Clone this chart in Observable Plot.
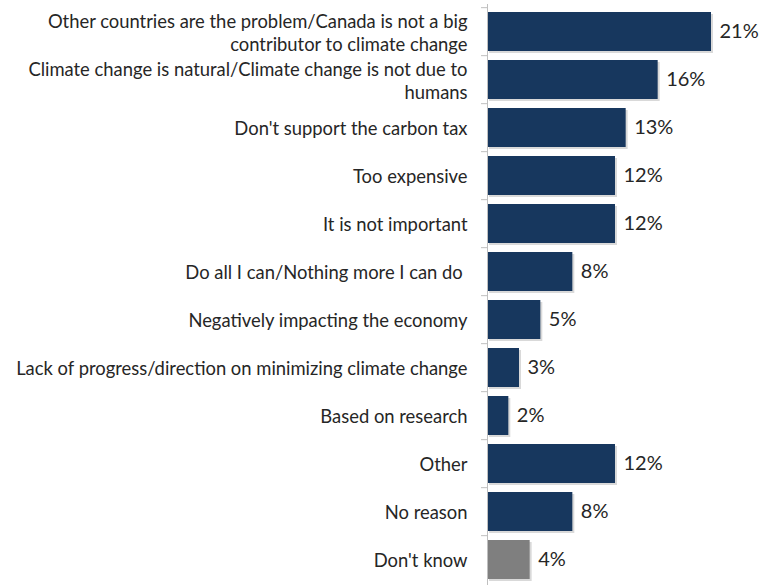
<!DOCTYPE html>
<html>
<head>
<meta charset="utf-8">
<script src="https://cdn.jsdelivr.net/npm/d3@7"></script>
<script src="https://cdn.jsdelivr.net/npm/@observablehq/plot@0.6"></script>
<style>
  html, body { margin: 0; padding: 0; background: #fff; overflow: hidden; }
  #chart svg { display: block; }
</style>
</head>
<body>
<div id="chart"></div>
<script>
const categories = [
  "Other countries are the problem/Canada is not a big\ncontributor to climate change",
  "Climate change is natural/Climate change is not due to\nhumans",
  "Don't support the carbon tax",
  "Too expensive",
  "It is not important",
  "Do all I can/Nothing more I can do\u00a0",
  "Negatively impacting the economy",
  "Lack of progress/direction on minimizing climate change",
  "Based on research",
  "Other",
  "No reason",
  "Don't know"
];
const values = [21, 16, 13, 12, 12, 8, 5, 3, 2, 12, 8, 4];
const groups = ["main","main","main","main","main","main","main","main","main","main","main","dk"];

const data = categories.map((c, i) => ({category: c, value: values[i], group: groups[i]}));

const W = 760, H = 588;
const marginTop = 4, marginBottom = 0;
const step = (H - marginTop - marginBottom) / categories.length;

const chart = Plot.plot({
  width: W,
  height: H,
  marginLeft: 487,
  marginRight: 49,
  marginTop,
  marginBottom,
  x: {domain: [0, 21], axis: null},
  y: {domain: categories, paddingInner: 0.18, paddingOuter: 0.09, axis: null},
  color: {domain: ["main", "dk"], range: ["#17375E", "#7F7F7F"]},
  style: {fontFamily: "Lato, sans-serif"},
  marks: [
    // bar shadow
    Plot.barX(data, {x: "value", y: "category", fill: "#000", fillOpacity: 0.15, dx: 2, dy: 2}),
    Plot.barX(data, {x: "value", y: "category", fill: "group"}),
    // axis line
    Plot.ruleX([0], {stroke: "#BFBFBF", strokeWidth: 1}),
    // category boundary ticks
    Plot.ruleY(categories, {y: d => d, x1: -0.56, x2: 0, dy: -step / 2, stroke: "#BFBFBF"}),
    // category labels
    Plot.text(data, {x: 0, y: "category", text: "category", textAnchor: "end", dx: -20,
      fontSize: 18.4, lineHeight: 1.25, fill: "#262626"}),
    // value labels
    Plot.text(data, {x: "value", y: "category", text: d => d.value + "%", textAnchor: "start", dx: 8,
      fontSize: 20, fill: "#262626"})
  ]
});
document.getElementById("chart").append(chart);
</script>
</body>
</html>
